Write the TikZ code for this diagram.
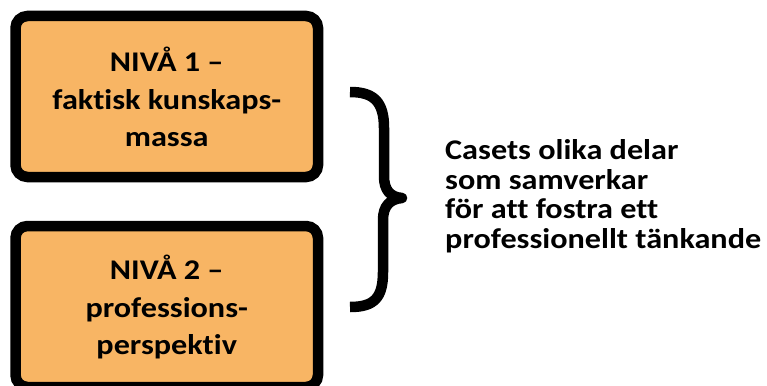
\documentclass[tikz,border=0pt]{standalone}
\usepackage{fontspec}
\setmainfont{Carlito}[FakeStretch=1.13, Ligatures=CommonOff]
\definecolor{boxfill}{HTML}{F8B564}
\begin{document}
\begin{tikzpicture}[x=1pt,y=-1pt,
  levelbox/.style={draw=black, line width=10.5pt, fill=boxfill, rounded corners=12pt,
    minimum width=302.5pt, minimum height=161pt, inner sep=0pt},
  boxtext/.style={align=center, inner sep=0pt, font=\bfseries\fontsize{28.5}{37.5}\selectfont},
  sidetext/.style={align=left, inner sep=0pt, anchor=west, font=\bfseries\fontsize{28.5}{29.5}\selectfont},
  bracestroke/.style={line width=10.5pt, line join=round, line cap=butt}]
  \useasboundingbox (0,0) rectangle (767,385);
  % the two levels
  \node[levelbox] (lvl1) at (166.75,96.5) {};
  \node[boxtext] (lvl1text) at (166.75,97) {NIVÅ 1 –\\faktisk kunskaps-\\massa};
  \node[levelbox] (lvl2) at (166.75,306.5) {};
  \node[boxtext] (lvl2text) at (166.75,307) {NIVÅ 2 –\\professions-\\perspektiv};
  % curly brace grouping both levels
  \draw[bracestroke] (350,92) .. controls (374,92) and (384,102) .. (384,128)
    -- (384,176) .. controls (384,190) and (390,197) .. (402,198)
    .. controls (390,199) and (383,206) .. (383,220)
    -- (383,272) .. controls (383,298) and (374,307) .. (350,307);
  % summary text
  \node[sidetext] (summary) at (445,196) {Casets olika delar\\som samverkar\\för att fostra ett\\professionellt tänkande};
\end{tikzpicture}
\end{document}
